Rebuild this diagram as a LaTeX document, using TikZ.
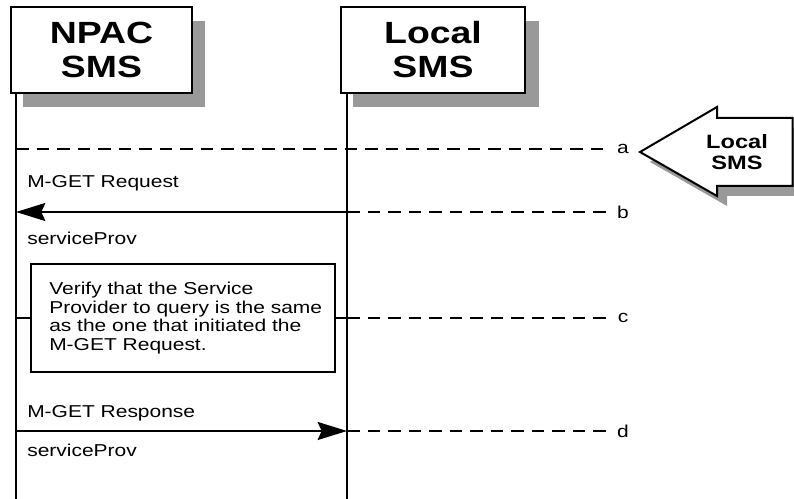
\documentclass[tikz,border=0pt]{standalone}
\usepackage{fontspec}
\setmainfont{Liberation Sans}[FakeStretch=1.22]
\usetikzlibrary{arrows.meta}
\begin{document}
\begin{tikzpicture}[x=0.75pt,y=-0.75pt,
  shadowc/.style={fill=black!40, draw=none},
  hdr/.style={draw, line width=1.5pt, fill=white, minimum height=64.5pt, inner sep=0pt,
    font=\fontsize{23pt}{25.5pt}\selectfont\bfseries, align=center},
  lbl/.style={font=\fontsize{12.9pt}{14pt}\selectfont, inner sep=0pt},
  life/.style={line width=1.5pt},
  dsh/.style={line width=1.5pt, dash pattern=on 9.4pt off 6pt},
  msg/.style={line width=1.5pt, -{Stealth[length=22pt,width=13.5pt,inset=3pt]}},
]
\useasboundingbox (0,0) rectangle (794,499);
\clip (0,0) rectangle (794,499);
% shadows
\fill[shadowc] (23,21) rectangle (205,107);
\fill[shadowc] (353,21) rectangle (539,107);
% header boxes
\node[hdr, minimum width=135.75pt] (npac) at (101.5,50) {NPAC\\SMS};
\node[hdr, minimum width=138pt] (local) at (433,50) {Local\\SMS};
% lifelines
\coordinate (nTop) at (16,93);
\coordinate (nBot) at (16,499);
\coordinate (lTop) at (347,93);
\coordinate (lBot) at (347,499);
\draw[life] (nTop) -- (nBot);
\draw[life] (lTop) -- (lBot);
% callout
\fill[shadowc] (650,162) -- (727,117) -- (727,128) -- (810,128) -- (810,196) -- (727,196) -- (727,206) -- cycle;
\draw[line width=1.5pt, fill=white, line join=miter] (640,152) -- (717,107) -- (717,118) -- (792.5,118) -- (792.5,186) -- (717,186) -- (717,196) -- cycle;
\node[font=\fontsize{14.5pt}{15.75pt}\selectfont\bfseries, align=center, inner sep=0pt] (callout) at (737,152) {Local\\SMS};
% message a
\coordinate (na) at (16,149);
\coordinate (ea) at (608,149);
\draw[dsh] (na) -- (ea);
\node[lbl] (la) at (623,149) {a};
% message b
\node[lbl, anchor=base west] (req) at (27,188) {M-GET Request};
\coordinate (nb) at (16,212);
\coordinate (lb) at (347,212);
\coordinate (eb) at (608,212);
\draw[msg] (lb) -- (nb);
\draw[dsh] (lb) -- (eb);
\node[lbl] (lbb) at (623,212) {b};
\node[lbl, anchor=base west] (sp1) at (27,245) {serviceProv};
% message c
\node[draw, line width=1.5pt, minimum width=228pt, minimum height=81pt, inner sep=0pt] (vbox) at (183,318) {};
\node[lbl, anchor=west, align=left] (vtext) at (49,318) {Verify that the Service\\Provider to query is the same\\as the one that initiated the\\M-GET Request.};
\coordinate (nc) at (16,318);
\coordinate (lc) at (347,318);
\coordinate (ec) at (608,318);
\draw[life] (nc) -- (vbox.west);
\draw[life] (vbox.east) -- (lc);
\draw[dsh] (lc) -- (ec);
\node[lbl] (lcc) at (623,318) {c};
% message d
\node[lbl, anchor=base west] (resp) at (27,418) {M-GET Response};
\coordinate (nd) at (16,431);
\coordinate (ld) at (347,431);
\coordinate (ed) at (608,431);
\draw[msg] (nd) -- (ld);
\draw[dsh] (ld) -- (ed);
\node[lbl] (ldd) at (623,431) {d};
\node[lbl, anchor=base west] (sp2) at (27,457) {serviceProv};
\end{tikzpicture}
\end{document}
